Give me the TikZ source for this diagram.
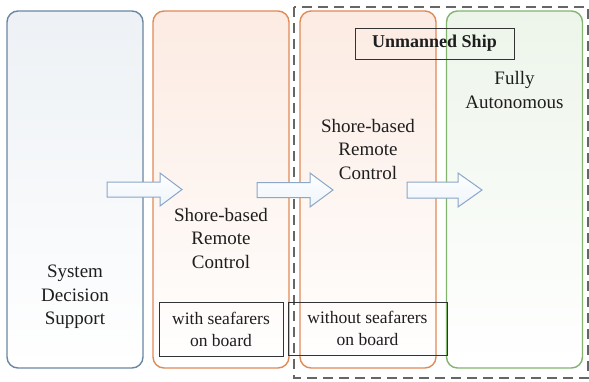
\documentclass[tikz,border=0pt]{standalone}
\usepackage{fontspec}
\setmainfont{Liberation Serif}
\definecolor{sblue}{HTML}{6A86A3}
\definecolor{sblueF}{HTML}{EDF1F5}
\definecolor{sorange}{HTML}{E08A55}
\definecolor{sorangeF}{HTML}{FCEBE2}
\definecolor{sgreen}{HTML}{82B46E}
\definecolor{sgreenF}{HTML}{EDF5EA}
\definecolor{arrowC}{HTML}{8AA6C8}
\definecolor{arrowF}{HTML}{EEF4FA}
\definecolor{txt}{HTML}{1E1E1E}
\begin{document}
\begin{tikzpicture}[x=1pt,y=-1pt,
  stage/.style={rounded corners=11pt, line width=1.4pt, minimum width=136pt, minimum height=357pt, inner sep=0, bottom color=white, middle color=white},
  lbl/.style={align=center, font=\fontsize{19}{23.5}\selectfont, text=txt, inner sep=0},
  tag/.style={draw=black!80, line width=0.9pt, inner sep=0, align=center, font=\fontsize{17.5}{22}\selectfont, text=txt},
  blockarr/.style={draw=arrowC, line width=1pt, top color=white, bottom color=arrowF, line join=miter}]
\useasboundingbox (0,0) rectangle (589,381);
\fill[white] (0,0) rectangle (589,381);
% stage boxes
\node[stage, draw=sblue, top color=sblueF] (sds) at (75,189.5) {};
\node[stage, draw=sorange, top color=sorangeF] (sbr1) at (221,189.5) {};
\node[stage, draw=sorange, top color=sorangeF] (sbr2) at (368,189.5) {};
\node[stage, draw=sgreen, top color=sgreenF] (fa) at (514.5,189.5) {};
% dashed unmanned region
\draw[draw=black!60, line width=1.6pt, dash pattern=on 10pt off 6pt] (294,7) rectangle (588,378);
% labels
\node[lbl] (t1) at (75,297) {System\\Decision\\Support};
\node[lbl] (t2) at (221,238) {Shore-based\\Remote\\Control};
\node[lbl] (t3) at (368,149) {Shore-based\\Remote\\Control};
\node[lbl] (t4) at (514.5,90) {Fully\\Autonomous};
% tag boxes
\node[tag, minimum width=124pt, minimum height=54pt] (w) at (221,329) {with seafarers\\on board};
\node[tag, minimum width=159pt, minimum height=53pt] (wo) at (367.5,328.5) {without seafarers\\on board};
\node[tag, minimum width=159pt, minimum height=31pt, font=\fontsize{18}{22}\selectfont\bfseries] (us) at (434.5,43.5) {Unmanned Ship};
% block arrows
\draw[blockarr] (107,182)--(160,182)--(160,173)--(182,189.5)--(160,206)--(160,197)--(107,197)--cycle;
\draw[blockarr] (257,182.5)--(310,182.5)--(310,173)--(333,190)--(310,207)--(310,197.5)--(257,197.5)--cycle;
\draw[blockarr] (407,182)--(458,182)--(458,173)--(482,190)--(458,207)--(458,198)--(407,198)--cycle;
\end{tikzpicture}
\end{document}
